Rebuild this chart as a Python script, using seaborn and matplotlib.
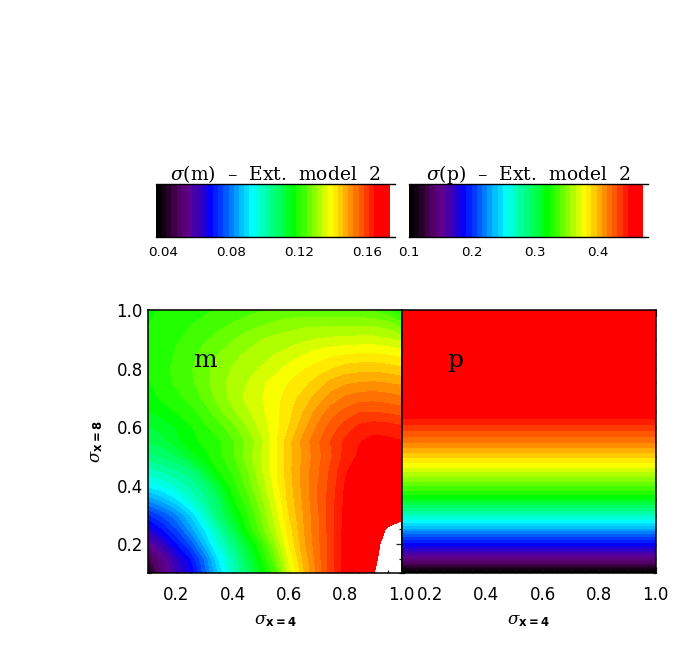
import matplotlib
matplotlib.use("Agg")
import matplotlib.pyplot as plt
from matplotlib.colors import LinearSegmentedColormap, ListedColormap
from matplotlib.ticker import MultipleLocator
import numpy as np
import seaborn as sns

sns.set_theme(style="ticks")
plt.rcParams['font.family'] = ['DejaVu Sans']
plt.rcParams['mathtext.fontset'] = 'custom'
plt.rcParams['mathtext.it'] = 'DejaVu Serif:italic'
plt.rcParams['mathtext.rm'] = 'DejaVu Serif'
plt.rcParams['mathtext.bf'] = 'DejaVu Sans:bold'

# sigma(x=4) and sigma(x=8) positions of the map values
sigma4 = [.10, .15, .20, .25, .30, .35, .40, .45, .50, .55, .60, .65, .70, .75, .80, .85, .90, .95, 1.0]
sigma8 = [.10, .15, .20, .25, .30, .35, .40, .45, .50, .55, .60, .65, .70, .75, .80, .85, .90, .95, 1.0]

# sigma(m) in thousandths, one row per sigma8
m_rows = [
    [38, 52, 60, 65.5, 77, 88, 98, 106.5, 115.5, 123, 135, 145, 153, 160, 166, 170, 173.4, 177, 180],
    [47, 54, 62, 69, 79, 91, 100, 109.5, 118, 126.5, 137.5, 146.5, 153.5, 160, 166, 169.8, 172.7, 176, 179],
    [55, 61, 69, 76, 86, 96, 104, 113, 121, 130, 140, 148, 154, 160, 166, 169.5, 172, 175.5, 178],
    [63, 69, 75, 83, 91, 100.5, 109.5, 118.5, 126, 133.5, 141.5, 148.5, 154.5, 160, 165.8, 169.5, 171.8, 174, 176],
    [72, 76, 81, 88, 97, 106, 114, 120.5, 127.5, 135, 143, 149, 154.5, 160, 165.5, 169, 170.8, 171.8, 172],
    [82, 85.5, 90, 96, 102, 108.5, 117.5, 123, 129.5, 136.5, 144, 149.5, 155, 160, 165.2, 168.5, 169.8, 170, 170],
    [91.5, 94, 97.5, 101, 105, 113, 120, 125.5, 131.5, 138, 144.5, 150, 155, 159.5, 164.8, 167.5, 168, 168, 167.5],
    [98.5, 100.5, 102.5, 105, 112, 118.5, 122, 127, 133, 139, 145, 150, 154.5, 159, 164, 166.5, 167, 166.8, 166],
    [105, 106.5, 109, 113.5, 117.5, 120.5, 124, 129, 133.5, 139, 145, 149.5, 154, 158, 162.5, 165, 166, 165.5, 165],
    [109, 111, 114, 117.5, 119, 120.8, 124, 128.2, 132.7, 139, 145, 150, 154.5, 158.5, 162, 164.2, 165.5, 165.3, 164.6],
    [112, 113.5, 115.5, 118, 120.8, 123.2, 126.6, 130.5, 134.8, 138.5, 143, 147.8, 152.5, 156.5, 159.7, 162, 163, 162.7, 161.7],
    [115, 116.5, 118.5, 120.4, 122.7, 126.5, 130, 132.9, 136, 138.8, 142, 146, 150.1, 153.8, 156.2, 158.2, 158.3, 157.8, 157],
    [117, 119, 120.6, 122.5, 125.3, 128.8, 131.7, 134.5, 136.5, 138.5, 141.5, 144, 147.2, 150.3, 152.5, 153.8, 154, 153.5, 152.7],
    [118, 120.2, 122, 123.6, 126.5, 129.6, 131.6, 133.7, 136.1, 138.2, 140, 141.8, 144.3, 147, 148.6, 149.2, 149.5, 149, 148.3],
    [118.5, 120.4, 122.3, 124.2, 126.4, 129, 130.9, 132.5, 134, 135.6, 138, 139.5, 141, 142.7, 144.2, 144.7, 144.8, 144.3, 143.3],
    [119, 119.5, 121.9, 123.7, 125.5, 127.6, 129.8, 131, 132.2, 133.7, 135, 136.5, 138, 139, 139.5, 140, 140, 139.5, 138.5],
    [118.5, 119.3, 121, 122.5, 124.1, 125.6, 127.3, 129.2, 130.5, 131.5, 132, 133, 133.8, 134.3, 134.7, 134.8, 134.8, 134, 133],
    [118.3, 119.2, 120.2, 121.3, 122.5, 123.7, 124.8, 126, 127.2, 128.5, 129.5, 130, 130, 130, 130, 130, 130, 129, 126],
    [118, 118.7, 119.3, 120, 120.8, 121.8, 122.6, 123.5, 124.2, 124.8, 125, 125.2, 125.2, 125, 125, 125, 124, 122, 118],
]

# sigma(p) depends on sigma8 only
p_sigma8 = [.10, .145, .197, .277, .362, .476, .55, .641, .75, 1.0]
p_values = [.100, .145, .1857, .2527, .321, .3815, .4165, .453, .462, .470]
p_sigma4 = [.10, 1.0]

m_range = [.0355, .1736]
p_range = [.1000, .4724]
m_cbar_ticks = [.04, .08, .12, .16]
p_cbar_ticks = [.1, .2, .3, .4]
map_ticks = [.2, .4, .6, .8, 1.0]
n_levels = 45

rainbow = LinearSegmentedColormap.from_list("idl_rainbow", [
    (0.00, (0, 0, 0)), (0.04, (.15, 0, .15)), (0.08, (.30, 0, .35)), (0.13, (.38, 0, .55)),
    (0.18, (.20, 0, .75)), (0.23, (0, 0, 1)), (0.41, (0, 1, 1)), (0.594, (0, 1, 0)),
    (0.756, (1, 1, 0)), (0.955, (1, 0, 0)), (1.00, (1, 0, 0))])
band_colors = [rainbow(i / (n_levels - 1)) for i in range(n_levels)]
W, H = 700, 668


def box(x0, x1, y0, y1):
    return [x0 / W, 1 - y1 / H, (x1 - x0) / W, (y1 - y0) / H]


def draw_cbar(rect, vrange, ticks, axis_end, title, ticklabels):
    ax = fig.add_axes(rect)
    cells = np.linspace(vrange[0], vrange[1], n_levels + 1)
    centres = (cells[:-1] + cells[1:]) / 2
    sns.heatmap(centres[np.newaxis, :], ax=ax, cmap=ListedColormap(band_colors), cbar=False,
                vmin=vrange[0], vmax=vrange[1], xticklabels=False, yticklabels=False)
    to_cell = lambda v: (v - vrange[0]) / (vrange[1] - vrange[0]) * n_levels
    ax.set_xlim(0, to_cell(axis_end))
    ax.set_xticks([to_cell(t) for t in ticks])
    ax.set_xticklabels(ticklabels, fontsize=9.7, color='black')
    ax.set_yticks([])
    ax.tick_params(axis='x', direction='in', top=True, bottom=True, length=1.5, width=.8, pad=7)
    for side in ['left', 'right']:
        ax.spines[side].set_visible(False)
    for side in ['top', 'bottom']:
        ax.spines[side].set_visible(True)
        ax.spines[side].set_linewidth(1.0)
        ax.spines[side].set_color('black')
    ax.set_title(title, fontsize=13.5, family='DejaVu Serif', pad=3, color='black')


def style_map(ax):
    ax.set_xlim(.1, 1.0)
    ax.set_ylim(.1, 1.0)
    ax.set_xticks(map_ticks)
    ax.set_xticklabels(['%.1f' % t for t in map_ticks], fontsize=12, color='black')
    ax.xaxis.set_minor_locator(MultipleLocator(.05))
    ax.yaxis.set_minor_locator(MultipleLocator(.05))
    ax.tick_params(which='major', direction='in', top=True, right=True, length=4.5, width=.9)
    ax.tick_params(which='minor', direction='in', top=True, right=True, length=2.2, width=.9)
    ax.tick_params(axis='x', which='major', pad=9)
    ax.tick_params(axis='y', which='major', pad=4)
    for s in ax.spines.values():
        s.set_linewidth(1.1)
        s.set_color('black')
    ax.set_xlabel(r'$\sigma_{\mathbf{x=4}}$', fontsize=12, color='black', labelpad=5)


fig = plt.figure(figsize=(W / 100, H / 100), dpi=100, facecolor='white')

draw_cbar(box(155.7, 395, 184, 236.7), m_range, m_cbar_ticks, .1766,
          r'$\sigma$(m)  –  Ext.  model  2', ['%.2f' % t for t in m_cbar_ticks])
draw_cbar(box(409, 648, 184, 236.7), p_range, p_cbar_ticks, .4797,
          r'$\sigma$(p)  –  Ext.  model  2', ['%.1f' % t for t in p_cbar_ticks])

ax_m = fig.add_axes(box(148.4, 401.7, 310, 573.3))
m_levels = np.linspace(m_range[0], m_range[1], n_levels + 1)
ax_m.contourf(sigma4, sigma8, np.array(m_rows) / 1000, levels=m_levels, colors=band_colors)
style_map(ax_m)
ax_m.set_yticks(map_ticks)
ax_m.set_yticklabels(['%.1f' % t for t in map_ticks], fontsize=12, color='black')
ax_m.set_ylabel(r'$\sigma_{\mathbf{x=8}}$', fontsize=12, color='black', labelpad=8)
ax_m.text(.26, .806, 'm', fontsize=18, family='DejaVu Serif', color='black')

ax_p = fig.add_axes(box(401.7, 655.7, 310, 573.3))
p_levels = np.linspace(p_range[0], p_range[1], n_levels + 1)
p_field = np.column_stack([p_values, p_values])
ax_p.contourf(p_sigma4, p_sigma8, p_field, levels=p_levels, colors=band_colors)
style_map(ax_p)
ax_p.set_yticks(map_ticks)
ax_p.set_yticklabels([])
ax_p.text(.26, .806, 'p', fontsize=18, family='DejaVu Serif', color='black')

fig.savefig('out.png', dpi=100)
